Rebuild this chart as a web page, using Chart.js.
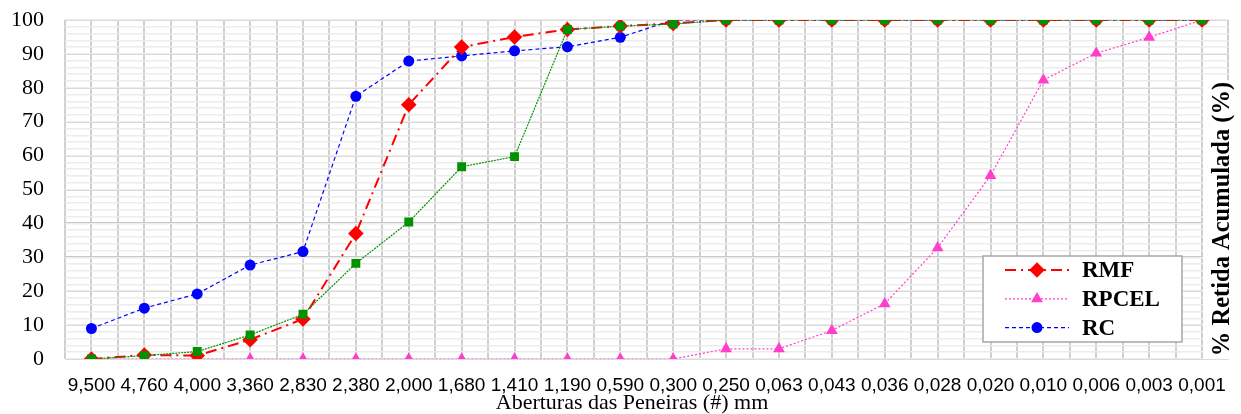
<!DOCTYPE html>
<html>
<head>
<meta charset="utf-8">
<script src="https://cdn.jsdelivr.net/npm/chart.js"></script>
<style>
  html, body { margin: 0; padding: 0; background: #fff; }
  #wrap { width: 1241px; height: 414px; }
</style>
</head>
<body>
<div id="wrap"><canvas id="granulometria" width="1241" height="414"></canvas></div>
<script>
// aberturas das peneiras (mm)
const aberturas = ['9,500', '4,760', '4,000', '3,360', '2,830', '2,380', '2,000', '1,680', '1,410', '1,190', '0,590',
    '0,300', '0,250', '0,063', '0,043', '0,036', '0,028', '0,020', '0,010', '0,006', '0,003', '0,001'];

// % retida acumulada
const rmf = [0, 1.2, 1, 5.7, 11.8, 37, 75, 92, 95, 97.2, 98.2, 99, 100, 100, 100, 100, 100, 100, 100, 100, 100, 100];
const rpcel = [0, 0, 0, 0, 0, 0, 0, 0, 0, 0, 0, 0, 3, 3, 8.4, 16.3, 32.8, 54.1, 82.3, 90.2, 94.9, 100];
const rc = [9, 15, 19.2, 27.7, 31.7, 77.5, 87.9, 89.4, 90.9, 92.1, 94.9, 100, 100, 100, 100, 100, 100, 100, 100, 100, 100, 100];
const serie4 = [0, 1, 2.2, 7.1, 13.2, 28.2, 40.4, 56.7, 59.7, 97.2, 98.2, 98.8, 100, 100, 100, 100, 100, 100, 100, 100, 100, 100];

const legendaSeries = ['RMF', 'RPCEL', 'RC'];

const CINZA = '#cfcfcf';
const SERIF = '"Liberation Serif", "Times New Roman", serif';

// desenha o marcador de um dataset (legenda)
function marcador(ctx, estilo, x, y, r, cor) {
    ctx.save();
    ctx.fillStyle = cor;
    ctx.beginPath();
    if (estilo === 'rectRot') {
        ctx.moveTo(x - r, y); ctx.lineTo(x, y - r); ctx.lineTo(x + r, y); ctx.lineTo(x, y + r);
    } else if (estilo === 'triangle') {
        const a = Math.sin(Math.PI / 3) * r;
        ctx.moveTo(x, y - r); ctx.lineTo(x + a, y + r / 2); ctx.lineTo(x - a, y + r / 2);
    } else {
        ctx.arc(x, y, r, 0, Math.PI * 2);
    }
    ctx.closePath();
    ctx.fill();
    ctx.restore();
}

const extras = {
    id: 'extras',
    beforeDatasetsDraw(chart) {
        const ctx = chart.ctx;
        const area = chart.chartArea;
        // caixa branca do título do eixo vertical
        ctx.save();
        ctx.fillStyle = '#fff';
        ctx.fillRect(1203, 80, 38, area.bottom - 80);
        ctx.restore();
    },
    afterDatasetsDraw(chart) {
        const ctx = chart.ctx;
        ctx.save();

        // legenda
        ctx.fillStyle = '#fff';
        ctx.fillRect(983, 256, 199, 86);
        ctx.strokeStyle = '#a6a6a6';
        ctx.lineWidth = 1.5;
        ctx.strokeRect(983, 256, 199, 86);

        let y = 270;
        legendaSeries.forEach(nome => {
            const ds = chart.data.datasets.find(d => d.label === nome);
            ctx.save();
            ctx.strokeStyle = ds.borderColor;
            ctx.lineWidth = ds.borderWidth;
            ctx.setLineDash(ds.borderDash);
            ctx.beginPath();
            ctx.moveTo(1005, y);
            ctx.lineTo(1069, y);
            ctx.stroke();
            ctx.restore();
            marcador(ctx, ds.pointStyle, 1037, y, ds.pointRadius, ds.borderColor);

            ctx.fillStyle = '#000';
            ctx.font = 'bold 23px ' + SERIF;
            ctx.textAlign = 'left';
            ctx.textBaseline = 'middle';
            ctx.fillText(nome, 1082, y + 1);
            y += 28.8;
        });

        // título do eixo vertical
        ctx.save();
        ctx.translate(1223, 219);
        ctx.rotate(-Math.PI / 2);
        ctx.fillStyle = '#000';
        ctx.font = 'bold 24.5px ' + SERIF;
        ctx.textAlign = 'center';
        ctx.textBaseline = 'middle';
        ctx.fillText('% Retida Acumulada (%)', 0, 0);
        ctx.restore();

        // título do eixo horizontal
        ctx.fillStyle = '#000';
        ctx.font = '22px ' + SERIF;
        ctx.textAlign = 'center';
        ctx.textBaseline = 'middle';
        ctx.fillText('Aberturas das Peneiras (#) mm', 632, 403);

        ctx.restore();
    }
};

const ctx = document.getElementById('granulometria').getContext('2d');
const chart = new Chart(ctx, {
    type: 'line',
    data: {
        labels: aberturas,
        datasets: [
            {
                label: 'Série 4',
                data: serie4,
                borderColor: '#009200',
                backgroundColor: '#009200',
                pointBackgroundColor: '#009200',
                borderWidth: 1.2,
                borderDash: [2, 1],
                pointStyle: 'rect',
                pointRadius: 6.3,
                pointBorderWidth: 0,
                order: 0
            },
            {
                label: 'RMF',
                data: rmf,
                borderColor: '#ff0000',
                backgroundColor: '#ff0000',
                pointBackgroundColor: '#ff0000',
                borderWidth: 2,
                borderDash: [11, 5, 2, 5],
                pointStyle: 'rectRot',
                pointRadius: 7.8,
                pointBorderWidth: 0,
                order: 1
            },
            {
                label: 'RPCEL',
                data: rpcel,
                borderColor: '#ff3fcc',
                backgroundColor: '#ff3fcc',
                pointBackgroundColor: '#ff3fcc',
                borderWidth: 1.2,
                borderDash: [2, 2],
                pointStyle: 'triangle',
                pointRadius: 6.8,
                pointBorderWidth: 0,
                order: 2
            },
            {
                label: 'RC',
                data: rc,
                borderColor: '#0000ff',
                backgroundColor: '#0000ff',
                pointBackgroundColor: '#0000ff',
                borderWidth: 1.2,
                borderDash: [4, 3],
                pointStyle: 'circle',
                pointRadius: 5.5,
                pointBorderWidth: 0,
                order: 3
            }
        ]
    },
    options: {
        responsive: false,
        animation: false,
        devicePixelRatio: 1,
        layout: { padding: { top: 20, right: 1, left: 0, bottom: 0 } },
        plugins: {
            legend: { display: false },
            tooltip: { enabled: false }
        },
        scales: {
            x: {
                type: 'category',
                offset: true,
                grid: { offset: false, color: CINZA, lineWidth: 2, drawTicks: false },
                border: { display: false },
                ticks: {
                    color: '#000',
                    padding: 15,
                    maxRotation: 0,
                    autoSkip: false,
                    font: { family: '"Liberation Sans", Arial, sans-serif', size: 19 }
                },
                afterFit(scale) { scale.height = 55; }
            },
            xMeio: {
                type: 'category',
                position: 'bottom',
                offset: true,
                grid: { offset: true, color: CINZA, lineWidth: 2, drawTicks: false },
                border: { display: false },
                ticks: { display: false },
                afterFit(scale) { scale.height = 0; }
            },
            y: {
                min: 0,
                max: 100,
                grid: { color: '#c8c8c8', lineWidth: 2, drawTicks: false },
                border: { display: false },
                ticks: {
                    stepSize: 10,
                    color: '#000',
                    padding: 21,
                    font: { family: SERIF, size: 22 }
                },
                afterFit(scale) {
                    scale.width = 65;
                    scale.paddingTop = 0;
                    scale.paddingBottom = 0;
                }
            },
            yMenor: {
                position: 'left',
                min: 0,
                max: 100,
                z: -1,
                grid: { color: '#ececec', lineWidth: 1.5, drawTicks: false },
                border: { display: false },
                ticks: { stepSize: 2, display: false },
                afterFit(scale) { scale.width = 0; }
            }
        }
    },
    plugins: [extras]
});
</script>
</body>
</html>
